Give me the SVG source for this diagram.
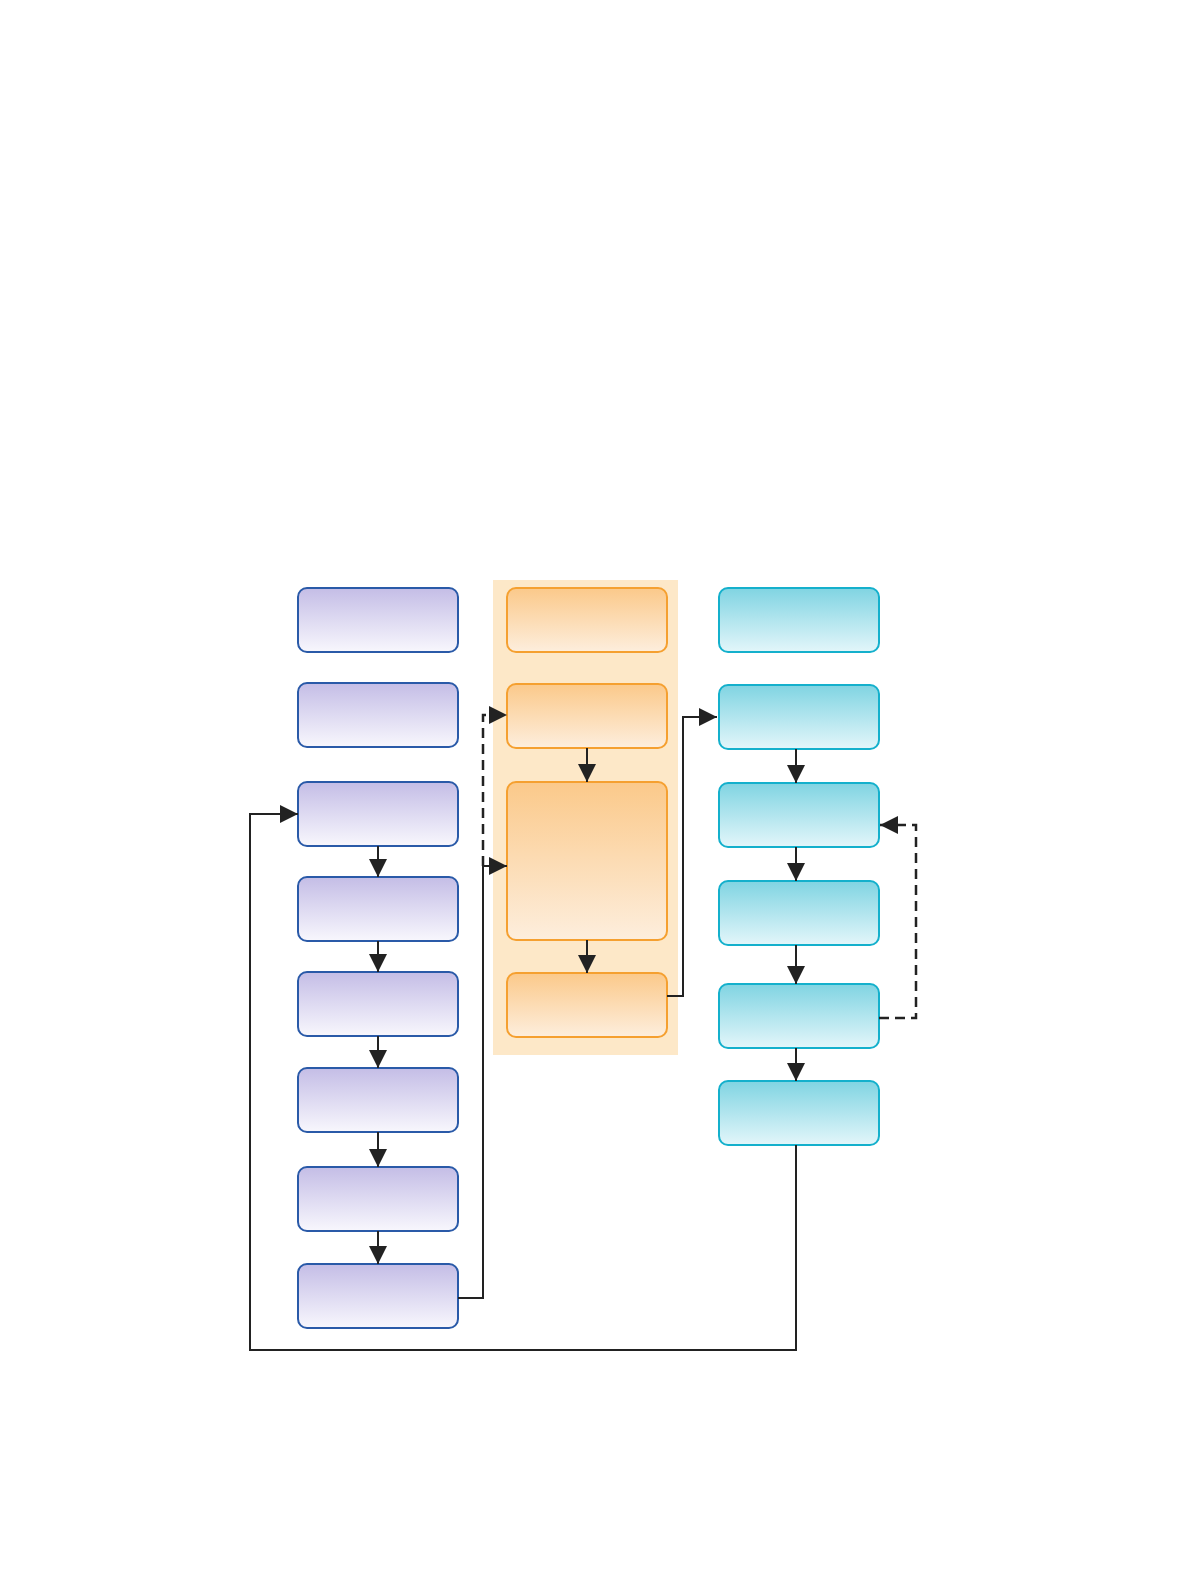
<svg xmlns="http://www.w3.org/2000/svg" width="1191" height="1584" viewBox="0 0 1191 1584">
<defs>
<linearGradient id="gb" x1="0" y1="0" x2="0" y2="1"><stop offset="0" stop-color="#c4bde6"/><stop offset="1" stop-color="#f8f7fd"/></linearGradient>
<linearGradient id="go" x1="0" y1="0" x2="0" y2="1"><stop offset="0" stop-color="#fbc98a"/><stop offset="1" stop-color="#fdeedd"/></linearGradient>
<linearGradient id="gc" x1="0" y1="0" x2="0" y2="1"><stop offset="0" stop-color="#80d4e2"/><stop offset="1" stop-color="#e3f6fa"/></linearGradient>
<marker id="a" viewBox="0 0 10 10" refX="10" refY="5" markerWidth="20" markerHeight="18" markerUnits="userSpaceOnUse" orient="auto"><path d="M0,0L10,5L0,10z" fill="#222"/></marker>
</defs>
<style>
.b{fill:url(#gb);stroke:#2a5aa8;stroke-width:2}
.o{fill:url(#go);stroke:#f5a030;stroke-width:2}
.c{fill:url(#gc);stroke:#14b0cc;stroke-width:2}
.l{fill:none;stroke:#222;stroke-width:2}
.d{stroke-dasharray:10,6;stroke-width:2.5}
</style>
<rect x="493" y="580" width="185" height="475" fill="#fde8c8"/>
<g id="L1"><rect class="b" x="298" y="588" width="160" height="64" rx="9"/></g>
<g id="L2"><rect class="b" x="298" y="683" width="160" height="64" rx="9"/></g>
<g id="L3"><rect class="b" x="298" y="782" width="160" height="64" rx="9"/></g>
<g id="L4"><rect class="b" x="298" y="877" width="160" height="64" rx="9"/></g>
<g id="L5"><rect class="b" x="298" y="972" width="160" height="64" rx="9"/></g>
<g id="L6"><rect class="b" x="298" y="1068" width="160" height="64" rx="9"/></g>
<g id="L7"><rect class="b" x="298" y="1167" width="160" height="64" rx="9"/></g>
<g id="L8"><rect class="b" x="298" y="1264" width="160" height="64" rx="9"/></g>
<g id="M1"><rect class="o" x="507" y="588" width="160" height="64" rx="9"/></g>
<g id="M2"><rect class="o" x="507" y="684" width="160" height="64" rx="9"/></g>
<g id="M3"><rect class="o" x="507" y="782" width="160" height="158" rx="9"/></g>
<g id="M4"><rect class="o" x="507" y="973" width="160" height="64" rx="9"/></g>
<g id="R1"><rect class="c" x="719" y="588" width="160" height="64" rx="9"/></g>
<g id="R2"><rect class="c" x="719" y="685" width="160" height="64" rx="9"/></g>
<g id="R3"><rect class="c" x="719" y="783" width="160" height="64" rx="9"/></g>
<g id="R4"><rect class="c" x="719" y="881" width="160" height="64" rx="9"/></g>
<g id="R5"><rect class="c" x="719" y="984" width="160" height="64" rx="9"/></g>
<g id="R6"><rect class="c" x="719" y="1081" width="160" height="64" rx="9"/></g>
<g id="connectors">
<path class="l" d="M378,846V877" marker-end="url(#a)"/>
<path class="l" d="M378,941V972" marker-end="url(#a)"/>
<path class="l" d="M378,1036V1068" marker-end="url(#a)"/>
<path class="l" d="M378,1132V1167" marker-end="url(#a)"/>
<path class="l" d="M378,1231V1264" marker-end="url(#a)"/>
<path class="l" d="M458,1298H483V866H507" marker-end="url(#a)"/>
<path class="l d" d="M483,866V715H507" marker-end="url(#a)"/>
<path class="l" d="M587,748V782" marker-end="url(#a)"/>
<path class="l" d="M587,940V973" marker-end="url(#a)"/>
<path class="l" d="M667,996H683V717H717" marker-end="url(#a)"/>
<path class="l" d="M796,749V783" marker-end="url(#a)"/>
<path class="l" d="M796,847V881" marker-end="url(#a)"/>
<path class="l" d="M796,945V984" marker-end="url(#a)"/>
<path class="l" d="M796,1048V1081" marker-end="url(#a)"/>
<path class="l d" d="M879,1018H916V825H880" marker-end="url(#a)"/>
<path class="l" d="M796,1145V1350H250V814H298" marker-end="url(#a)"/>
</g>
</svg>
